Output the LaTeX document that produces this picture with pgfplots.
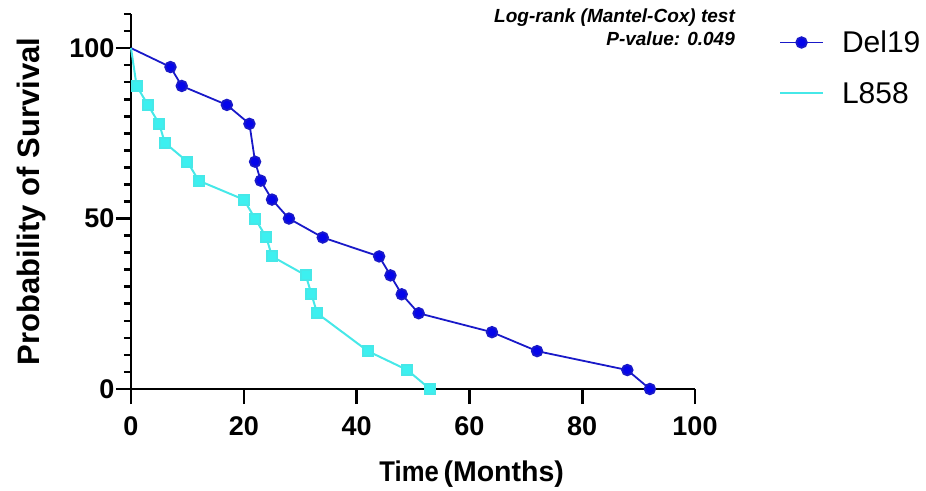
\documentclass[border=0pt]{standalone}
\usepackage{pgfplots}
\pgfplotsset{compat=1.18}
\usepackage{fontspec}
\setmainfont{Liberation Sans}
\definecolor{delline}{RGB}{25,25,200}
\definecolor{delmark}{RGB}{5,5,235}
\definecolor{lline}{RGB}{70,232,232}
\definecolor{lmark}{RGB}{60,240,240}
\pgfplotsset{
  dellegend/.style={legend image code/.code={\draw[mark repeat=2,mark phase=2,##1] plot coordinates {(0pt,0pt) (21.5pt,0pt) (43pt,0pt)};}},
  llegend/.style={legend image code/.code={\draw[##1, mark=none] plot coordinates {(0pt,0pt) (21.5pt,0pt) (43pt,0pt)};}},
}
\begin{document}
\begin{tikzpicture}
\path[use as bounding box] (0pt,0pt) rectangle (926pt,490pt);
\begin{axis}[
  at={(131pt,101pt)}, anchor=south west,
  scale only axis, width=564pt, height=375pt,
  xmin=0, xmax=100, ymin=0, ymax=110,
  axis lines=left,
  axis line style={-, line width=2.8pt},
  clip=false,
  tick align=outside,
  tickwidth=15pt, subtickwidth=7pt,
  tick style={draw=black, line width=2.6pt},
  xtick={0,20,40,60,80,100},
  ytick={0,50,100},
  minor ytick={5,10,15,20,25,30,35,40,45,55,60,65,70,75,80,85,90,95,105,110},
  /pgf/number format/assume math mode=true,
  ticklabel style={font=\bfseries\fontsize{27}{27}\selectfont},
  xticklabel style={yshift=-9pt},
  yticklabel style={xshift=2pt},
  xlabel={\scalebox{0.9}[1]{Time}\,(Months)},
  xlabel style={at={(axis description cs:0.604,-0.247)}, anchor=base, font=\bfseries\fontsize{28.5}{28.5}\selectfont},
  ylabel={Probability of Survival},
  ylabel style={at={(axis description cs:-0.176,0.5)}, anchor=center, font=\bfseries\fontsize{31}{31}\selectfont},
  legend style={draw=none, fill=none, at={(axis description cs:1.149,0.955)}, anchor=north west,
    inner sep=0pt, outer sep=0pt, row sep=28pt, column sep=18pt,
    font=\fontsize{30}{30}\selectfont, nodes={inner sep=0pt}},
  legend cell align=left,
]
% tick marks of the axes (x: 15pt down, y major: 15pt left, y minor: 7pt left)
\addplot[ycomb, black, line width=2.6pt, mark=none, forget plot]
  coordinates {(0,-4.4) (20,-4.4) (40,-4.4) (60,-4.4) (80,-4.4) (100,-4.4)};
\addplot[xcomb, black, line width=2.6pt, mark=none, forget plot]
  coordinates {(-2.66,0) (-2.66,50) (-2.66,100)};
\addplot[xcomb, black, line width=2.6pt, mark=none, forget plot]
  coordinates {(-1.24,5) (-1.24,10) (-1.24,15) (-1.24,20) (-1.24,25) (-1.24,30) (-1.24,35)
  (-1.24,40) (-1.24,45) (-1.24,55) (-1.24,60) (-1.24,65) (-1.24,70) (-1.24,75) (-1.24,80)
  (-1.24,85) (-1.24,90) (-1.24,95) (-1.24,105) (-1.24,110)};
\addplot[color=delline, line width=1.8pt, mark=*, mark size=5.3pt,
  mark options={fill=delmark, draw=none},
  mark repeat=1, mark phase=2, dellegend]
coordinates {
(0,100) (7,94.44) (9,88.89) (17,83.33) (21,77.78) (22,66.67) (23,61.11) (25,55.56) (28,50)
(34,44.44) (44,38.89) (46,33.33) (48,27.78) (51,22.22) (64,16.67) (72,11.11) (88,5.56) (92,0)
};
\addlegendentry{Del19}
\addplot[color=lline, line width=2pt, mark=square*, mark size=5pt,
  mark options={fill=lmark, draw=none},
  mark repeat=1, mark phase=2, llegend]
coordinates {
(0,100) (1,88.89) (3,83.33) (5,77.78) (6,72.22) (10,66.67) (12,61.11) (20,55.56) (22,50)
(24,44.44) (25,38.89) (31,33.33) (32,27.78) (33,22.22) (42,11.11) (49,5.56) (53,0)
};
\addlegendentry{L858}
\node[anchor=base east, font=\bfseries\itshape\fontsize{19}{19}\selectfont, inner sep=0pt]
  at (axis description cs:1.071,0.977) {Log-rank (Mantel-Cox) test};
\node[anchor=base east, font=\bfseries\itshape\fontsize{19}{19}\selectfont, inner sep=0pt]
  at (axis description cs:1.071,0.917) {P-value: 0.049};
\end{axis}
\end{tikzpicture}
\end{document}
